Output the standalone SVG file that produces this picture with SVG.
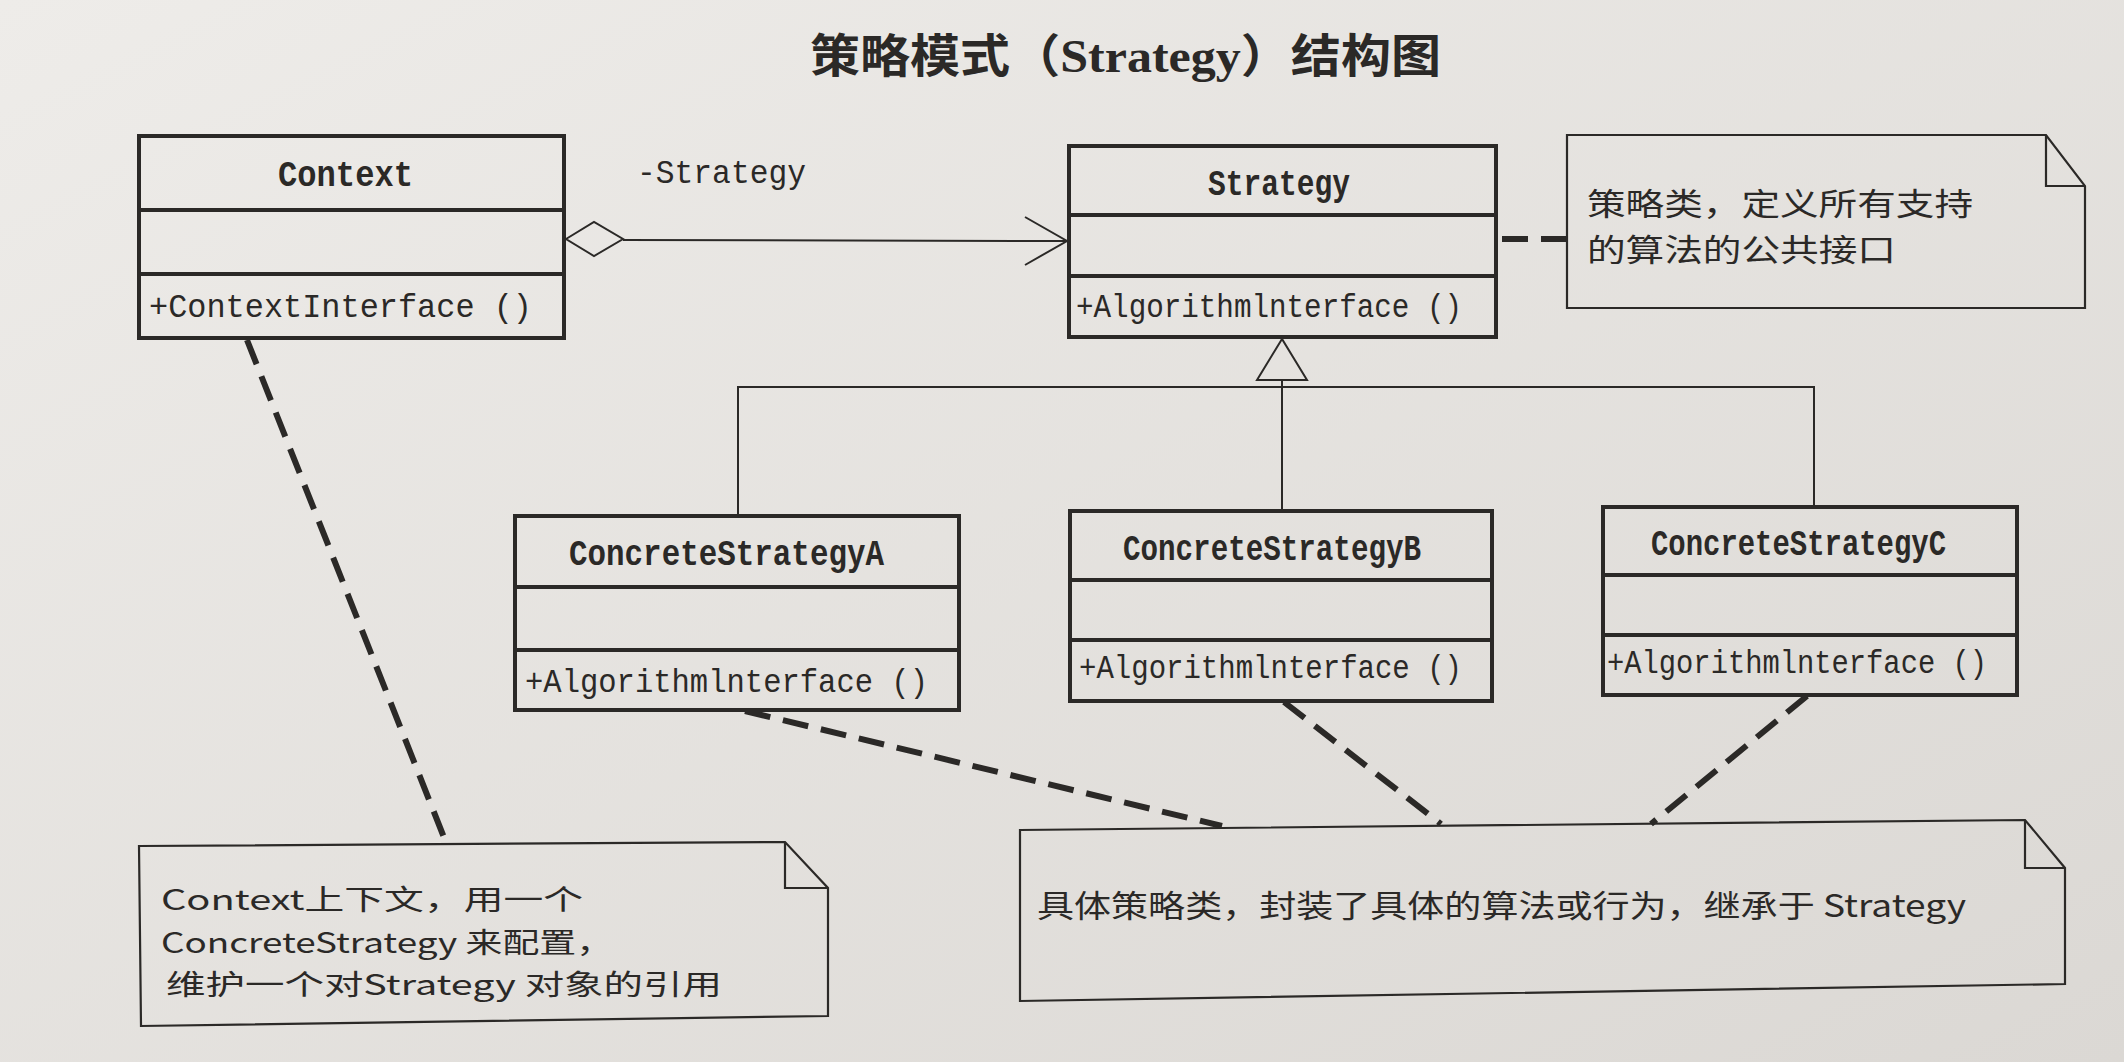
<svg xmlns="http://www.w3.org/2000/svg" width="2124" height="1062" viewBox="0 0 2124 1062">
<defs>
<linearGradient id="bg" x1="0" y1="0" x2="1" y2="1">
<stop offset="0" stop-color="#eeece9"/>
<stop offset="1" stop-color="#dbd8d4"/>
</linearGradient>
<style>
.box{fill:none;stroke:#2b2927;stroke-width:4}
.div{stroke:#2b2927;stroke-width:4}
.thin{fill:none;stroke:#2b2927;stroke-width:2}
.note{fill:none;stroke:#2b2927;stroke-width:2.2}
.dash{fill:none;stroke:#2b2927;stroke-width:6;stroke-dasharray:26 13}
.cls{font-family:"Liberation Mono","DejaVu Sans Mono",monospace;font-weight:bold;font-size:36px;fill:#2b2927}
.mth{font-family:"Liberation Mono","DejaVu Sans Mono",monospace;font-size:34px;fill:#2b2927}
.txt{font-family:"Noto Sans CJK SC",sans-serif;font-size:31px;fill:#2b2927}
.txt2{font-family:"Noto Sans CJK SC",sans-serif;font-size:28px;fill:#2b2927}
.ttl{font-family:"Noto Sans CJK SC",sans-serif;font-weight:bold;font-size:46px;fill:#2b2927}
</style>
</defs>
<rect width="2124" height="1062" fill="url(#bg)"/>
<text class="ttl" x="810" y="72" textLength="631" lengthAdjust="spacingAndGlyphs">策略模式（<tspan font-family="Liberation Serif,serif">Strategy</tspan>）结构图</text>

<g id="connectors">
<polygon class="thin" points="566,239 594,222 623,239 594,256"/>
<line class="thin" x1="623" y1="240" x2="1067" y2="241"/>
<polyline class="thin" points="1025,217 1067,241 1025,265"/>
<text class="mth" x="637" y="183" textLength="169" lengthAdjust="spacingAndGlyphs">-Strategy</text>
<polygon class="thin" points="1282,339 1257,380 1307,380"/>
<line class="thin" x1="1282" y1="380" x2="1282" y2="511"/>
<polyline class="thin" points="738,516 738,387 1814,387 1814,508"/>
<line class="dash" x1="1502" y1="239" x2="1567" y2="239"/>
<line class="dash" x1="247" y1="340" x2="447" y2="845"/>
<line class="dash" x1="745" y1="711" x2="1222" y2="826"/>
<line class="dash" x1="1284" y1="702" x2="1441" y2="824"/>
<line class="dash" x1="1807" y1="696" x2="1651" y2="824"/>
</g>

<g id="context">
<rect class="box" x="139" y="136" width="425" height="202"/>
<line class="div" x1="139" y1="210" x2="564" y2="210"/>
<line class="div" x1="139" y1="274" x2="564" y2="274"/>
<text class="cls" x="278" y="186" textLength="135" lengthAdjust="spacingAndGlyphs">Context</text>
<text class="mth" x="149" y="317" textLength="383" lengthAdjust="spacingAndGlyphs">+ContextInterface ()</text>
</g>

<g id="strategy">
<rect class="box" x="1069" y="146" width="427" height="191"/>
<line class="div" x1="1069" y1="215" x2="1496" y2="215"/>
<line class="div" x1="1069" y1="276" x2="1496" y2="276"/>
<text class="cls" x="1208" y="195" textLength="142" lengthAdjust="spacingAndGlyphs">Strategy</text>
<text class="mth" x="1076" y="317" textLength="386" lengthAdjust="spacingAndGlyphs">+Algorithmlnterface ()</text>
</g>

<g id="note-strategy">
<polygon class="note" points="1567,135 2046,135 2085,186 2085,308 1567,308"/>
<polyline class="note" points="2046,135 2046,186 2085,186"/>
<text class="txt" x="1587" y="215" textLength="386" lengthAdjust="spacingAndGlyphs">策略类，定义所有支持</text>
<text class="txt" x="1587" y="261" textLength="309" lengthAdjust="spacingAndGlyphs">的算法的公共接口</text>
</g>

<g id="concrete-a">
<rect class="box" x="515" y="516" width="444" height="194"/>
<line class="div" x1="515" y1="587" x2="959" y2="587"/>
<line class="div" x1="515" y1="650" x2="959" y2="650"/>
<text class="cls" x="569" y="565" textLength="315" lengthAdjust="spacingAndGlyphs">ConcreteStrategyA</text>
<text class="mth" x="525" y="692" textLength="403" lengthAdjust="spacingAndGlyphs">+Algorithmlnterface ()</text>
</g>

<g id="concrete-b">
<rect class="box" x="1070" y="511" width="422" height="190"/>
<line class="div" x1="1070" y1="580" x2="1492" y2="580"/>
<line class="div" x1="1070" y1="640" x2="1492" y2="640"/>
<text class="cls" x="1123" y="560" textLength="298" lengthAdjust="spacingAndGlyphs">ConcreteStrategyB</text>
<text class="mth" x="1079" y="678" textLength="383" lengthAdjust="spacingAndGlyphs">+Algorithmlnterface ()</text>
</g>

<g id="concrete-c">
<rect class="box" x="1603" y="507" width="414" height="188"/>
<line class="div" x1="1603" y1="575" x2="2017" y2="575"/>
<line class="div" x1="1603" y1="635" x2="2017" y2="635"/>
<text class="cls" x="1651" y="555" textLength="295" lengthAdjust="spacingAndGlyphs">ConcreteStrategyC</text>
<text class="mth" x="1607" y="673" textLength="380" lengthAdjust="spacingAndGlyphs">+Algorithmlnterface ()</text>
</g>

<g id="note-context">
<polygon class="note" points="139,846 785,842 828,888 828,1016 141,1026"/>
<polyline class="note" points="785,842 785,888 828,888"/>
<text class="txt2" x="161" y="910" textLength="422" lengthAdjust="spacingAndGlyphs">Context上下文，用一个</text>
<text class="txt2" x="161" y="953" textLength="452" lengthAdjust="spacingAndGlyphs">ConcreteStrategy 来配置，</text>
<text class="txt2" x="166" y="995" textLength="556" lengthAdjust="spacingAndGlyphs">维护一个对Strategy 对象的引用</text>
</g>

<g id="note-concrete">
<polygon class="note" points="1020,830 2025,820 2065,868 2065,984 1020,1001"/>
<polyline class="note" points="2025,820 2025,868 2065,868"/>
<text class="txt" x="1037" y="917" textLength="929" lengthAdjust="spacingAndGlyphs">具体策略类，封装了具体的算法或行为，继承于 Strategy</text>
</g>
</svg>
